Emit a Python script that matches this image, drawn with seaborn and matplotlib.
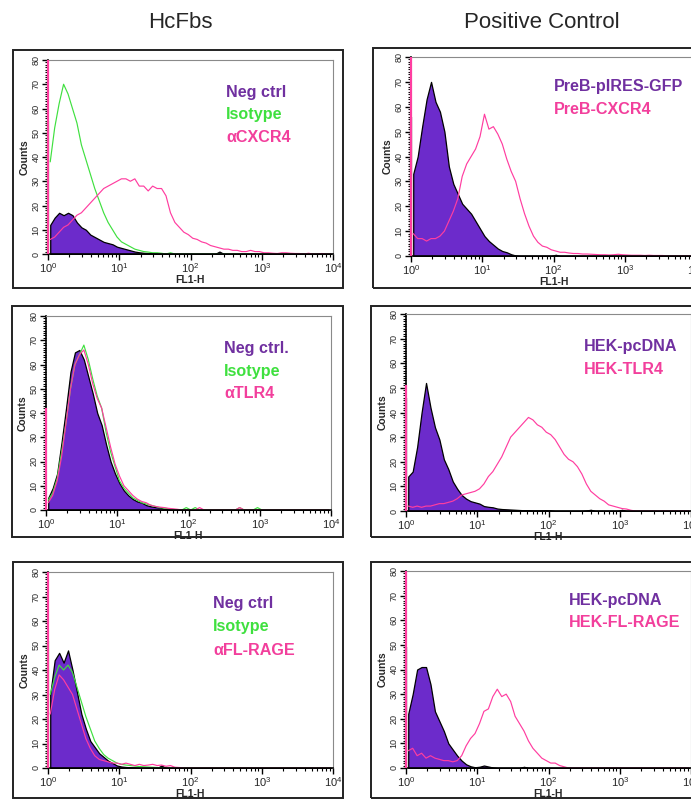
import numpy as np
import matplotlib
matplotlib.use("Agg")
import matplotlib.pyplot as plt
from matplotlib.patches import Rectangle
from matplotlib.ticker import MultipleLocator, FixedLocator
import seaborn as sns

# ----------------------------
# Data: counts per channel, 16 channels per decade of FL1-H (10^0 .. 10^4)
# first-channel pile-up values are kept separately
# ----------------------------
neg_a = [12, 15, 17, 16, 17, 16, 13, 11, 10, 8, 7, 6, 5, 4.5, 4, 3,
         2.5, 2, 1.5, 1, 0.7, 0.5, 0.4, 0.3, 0.2, 0.2, 0.1, 0.1, 0, 0, 0, 0,
         0, 0, 0, 0, 0, 0, 1, 0, 0, 0, 0, 0, 0, 0, 0, 0,
         0, 0, 0, 0, 0, 0, 0, 0, 0, 0, 0, 0, 0, 0, 0, 0]
iso_a = [38, 52, 62, 70, 66, 60, 54, 45, 39, 33, 27, 22, 17, 13, 10, 7,
         5, 4, 3, 2, 1.5, 1, 0.8, 0.5, 0.5, 0.3, 0, 0.5, 0, 0, 0, 0,
         0, 0, 0, 0, 0, 0, 0, 0, 0, 0, 0, 0, 0, 0, 0, 0,
         0, 0, 0, 0, 0, 0, 0, 0, 0, 0, 0, 0, 0, 0, 0, 0]
cxcr4_a = [6, 7, 9, 11, 12, 14, 16, 17, 19, 21, 23, 25, 27, 28, 29, 30,
           31, 31, 30, 31, 28, 28, 26, 28, 27, 27, 24, 17, 13, 11, 9, 8,
           6.5, 6, 5, 4.5, 3.5, 3, 2.5, 2, 2, 1.5, 1.5, 1, 1, 1.5, 1, 1,
           0.5, 0.5, 0.3, 0.2, 0.5, 0.5, 0.3, 0.2, 0.2, 0, 0.3, 0, 0, 0.2, 0, 0]

preb_gfp = [33, 40, 52, 63, 70, 62, 58, 50, 36, 29, 25, 21, 19, 17, 14, 11,
            8, 6, 4.5, 3, 2, 1.5, 0.7, 0.2, 0, 0, 0, 0, 0, 0, 0, 0,
            0.5, 0, 0, 0, 0, 0, 0, 0, 0, 0, 0, 0, 0, 0, 0, 0,
            0, 0, 0, 0, 0, 0, 0, 0, 0, 0, 0, 0, 0, 0, 0, 0]
preb_cxcr4 = [9, 7, 7, 6, 7, 7, 8, 10, 14, 18, 23, 32, 37, 40, 43, 48,
              57, 51, 52, 49, 45, 39, 34, 30, 23, 17, 12, 8, 5.5, 4, 3.5, 2.5,
              2, 1.5, 1.5, 1.2, 1, 1, 0.8, 0.8, 0.7, 0.6, 0.5, 0.5, 0.4, 0.5, 0.7, 0.5,
              0.4, 0.3, 0.3, 0.3, 0.2, 0.3, 0.2, 0.2, 0.2, 0, 0, 0, 0, 0, 0, 0]

neg_c = [5, 9, 15, 28, 42, 57, 65, 66, 62, 55, 48, 40, 35, 27, 20, 15,
         11, 8, 6, 4.5, 3.5, 3, 2, 1.5, 1.2, 1, 0.5, 0.3, 0, 0, 0, 0,
         0, 0, 0, 0, 0, 0, 0, 0, 0, 0, 0, 0, 0, 0, 0, 0,
         0, 0, 0, 0, 0, 0, 0, 0, 0, 0, 0, 0, 0, 0, 0, 0]
iso_c = [4, 7, 13, 24, 36, 50, 60, 64, 68, 62, 54, 47, 42, 32, 24, 18,
         12, 9, 7, 5, 4, 3, 2.5, 2, 1.5, 1, 0.8, 0.5, 0.3, 0, 0, 1,
         0, 1, 0, 0, 0, 0, 0, 0, 0, 0, 0, 1, 0, 0, 0, 1,
         0, 0, 0, 0, 0, 0, 0, 0, 0, 0, 0, 0, 0, 0, 0, 0]
tlr4_c = [3, 6, 12, 22, 36, 50, 60, 64, 66, 60, 52, 46, 42, 34, 26, 19,
          14, 10, 8, 6, 4.5, 3.5, 3, 2, 1.5, 1.2, 1, 0.7, 0.5, 0.3, 0, 0,
          0, 0, 1, 0, 0, 0, 0, 0, 0, 0, 0, 1, 0, 0, 0, 0,
          0, 0, 0, 0, 0, 0, 0, 0, 0, 0, 0, 0, 0, 0, 0, 0]

hek_pc_d = [14, 16, 26, 40, 52, 42, 34, 29, 21, 17, 12, 9, 6.5, 5, 4, 3.5,
            3, 2, 1.7, 1.5, 1, 0.8, 0.7, 0.6, 0.5, 0.4, 0.3, 0.3, 0.2, 0.2, 0.2, 0.3,
            0.2, 0, 0, 0, 0, 0, 0, 0, 0.2, 0.5, 0, 0, 0, 0, 0, 0,
            0.5, 0, 0, 0, 0, 0, 0, 0, 0, 0, 0, 0, 0, 0, 0, 0]
hek_tlr4 = [2, 1.5, 2, 1.5, 2, 2, 2.5, 3, 3, 3.5, 4, 5, 6.5, 7, 7.5, 8,
            9, 11, 14, 16, 19, 22, 26, 30, 32, 34, 36, 38, 37, 35, 34, 32,
            31, 29, 26, 23, 21, 20, 18, 15, 11, 8, 6.5, 5, 4, 2.5, 2, 1.5,
            1, 0.8, 0.3, 0, 0, 0, 0, 0, 0, 0, 0, 0, 0, 0, 0, 0]

neg_e = [30, 44, 47, 43, 48, 40, 31, 22, 16, 11, 8.5, 6, 4.5, 3, 2, 1,
         0.6, 0.4, 0.3, 0.2, 0, 0, 0, 0, 0, 1, 0, 0, 0, 0, 0, 0,
         0, 0, 0, 0, 0, 0, 0, 0, 0, 0, 0, 0, 0, 0, 0, 0,
         0, 0, 0, 0, 0, 0, 0, 0, 0, 0, 0, 0, 0, 0, 0, 0]
iso_e = [30, 37, 42, 40, 42, 39, 33, 27, 21, 16, 11, 8, 5.5, 4, 3, 2,
         1.5, 1.2, 1, 0.8, 0.6, 0.5, 0.4, 0.3, 0.2, 0, 0, 0, 0, 0, 0, 0,
         0, 0, 0, 0, 0, 0, 0, 0, 0, 0, 0, 0, 0, 0, 0, 0,
         0, 0, 0, 0, 0, 0, 0, 0, 0, 0, 0, 0, 0, 0, 0, 0]
rage_e = [22, 32, 38, 36, 33, 30, 24, 18, 12, 8, 5, 3.5, 3, 2.5, 2, 2,
          1.5, 2, 1.5, 1, 1.5, 1, 1.2, 1.5, 1, 1.2, 0.7, 1, 0.3, 0.2, 0, 0,
          0, 0, 0, 0, 0, 0, 0, 0, 0, 0, 0, 0, 0, 0, 0, 0,
          0, 0, 0, 0, 0, 0, 0, 0, 0, 0, 0, 0, 0, 0, 0, 0]

hek_pc_f = [22, 30, 40, 41, 41, 34, 23, 19, 15, 10, 7.5, 5, 3, 1.5, 0.7, 0.3,
            0.5, 1, 0.6, 0.2, 0, 0, 0, 0, 0, 0, 0.5, 0, 0, 0, 0, 0,
            0, 0, 0, 0, 0, 0, 0, 0, 0, 0, 0, 0, 0, 0, 0, 0,
            0, 0, 0, 0, 0, 0, 0, 0, 0, 0, 0, 0, 0, 0, 0, 0]
hek_rage = [7, 8, 5, 6, 4, 5, 4, 3.5, 3, 3, 2.5, 3, 5, 9, 12, 14,
            18, 23, 24, 29, 32, 29, 30, 27, 21, 18, 15, 11, 8, 6, 4, 3,
            2, 2, 1, 0.5, 0, 0, 0, 0, 0, 0, 0, 0, 0, 0, 0, 0,
            0, 0, 0, 0, 0, 0, 0, 0, 0, 0, 0, 0, 0, 0, 0, 0]

# pile-up in the first channel (drawn as a spike on the 10^0 edge)
first_a = {"iso": 55, "pink": 80}
first_b = {"fill": 56, "pink": 80}
first_c = {"pink": 42}
first_d = {"fill": 46, "pink": 51}
first_e = {"iso": 52, "pink": 80}
first_f = {"fill": 49, "pink": 80}

col_titles = ["HcFbs", "Positive Control"]

PURPLE_FILL = "#6C2BCB"
PURPLE_TXT = "#7030A0"
GREEN = "#3FE03F"
PINK = "#FF3DA0"
PINK_TXT = "#F23F9C"

W, H = 691, 799
N_BINS = 64
edges = np.linspace(0, 4, N_BINS + 1)
centers = (edges[:-1] + edges[1:]) / 2

sns.set_style("ticks")
plt.rcParams["font.family"] = ["Liberation Sans", "DejaVu Sans"]
plt.rcParams["mathtext.fontset"] = "custom"
plt.rcParams["mathtext.rm"] = "Liberation Sans"

fig = plt.figure(figsize=(W / 100, H / 100), dpi=100)


def px_axes(left, top, right, bottom):
    return fig.add_axes([left / W, 1 - bottom / H, (right - left) / W, (bottom - top) / H])


def style_axis(ax):
    ax.set_xlim(0, 4)
    ax.set_ylim(0, 80)
    ax.set_xticks(range(5))
    ax.set_xticklabels([r"$\mathregular{10^{%d}}$" % k for k in range(5)], fontsize=8)
    minors = [d + np.log10(m) for d in range(4) for m in range(2, 10)]
    ax.xaxis.set_minor_locator(FixedLocator(minors))
    ax.set_yticks(range(0, 81, 10))
    ax.set_yticklabels([str(v) for v in range(0, 81, 10)], rotation=90, va="center", fontsize=6.5)
    ax.yaxis.set_minor_locator(MultipleLocator(1))
    ax.tick_params(axis="both", which="major", direction="out", length=4, width=1, pad=1.5, color="black")
    ax.tick_params(axis="both", which="minor", direction="out", length=2, width=0.8, color="black")
    ax.set_xlabel("FL1-H", fontsize=7.5, fontweight="bold", va="top")
    ax.xaxis.set_label_coords(0.5, -0.108)
    ax.set_ylabel("Counts", fontsize=7.5, fontweight="bold", labelpad=1)
    for s in ["left", "bottom"]:
        ax.spines[s].set_linewidth(1.2)
        ax.spines[s].set_color("black")
    for s in ["top", "right"]:
        ax.spines[s].set_visible(True)
        ax.spines[s].set_linewidth(0.8)
        ax.spines[s].set_color("#8a8a8a")


def draw_fill(ax, counts):
    sns.histplot(x=centers, weights=np.asarray(counts, float), bins=N_BINS, binrange=(0, 4),
                 element="poly", fill=True, color=PURPLE_FILL, edgecolor="black",
                 linewidth=0.9, alpha=1, ax=ax)


def draw_line(ax, counts, color):
    sns.histplot(x=centers, weights=np.asarray(counts, float), bins=N_BINS, binrange=(0, 4),
                 element="poly", fill=False, color=color, linewidth=0.85, ax=ax)


def spike(ax, value, color):
    ax.vlines(edges[0], 0, value, color=color, linewidth=1.6, zorder=6, clip_on=False)


def labels(ax, x, ys, texts, colors):
    for y, t, c in zip(ys, texts, colors):
        ax.text(x, y, t, transform=ax.transAxes, color=c, fontsize=11.6,
                fontweight="bold", va="center", ha="left")


# ----------------------------
# Outer panel frames
# ----------------------------
frames = [(13, 50, 343, 288), (373, 48, 702, 288),
          (12, 306, 343, 537), (371, 306, 702, 537),
          (13, 562, 343, 798), (371, 562, 702, 798)]
for x0, y0, x1, y1 in frames:
    fig.add_artist(Rectangle((x0 / W, 1 - y1 / H), (x1 - x0) / W, (y1 - y0) / H,
                             transform=fig.transFigure, fill=False, lw=1.4, ec="#222222"))

fig.text(180 / W, 1 - 22 / H, col_titles[0], fontsize=16, ha="center", va="center")
fig.text(542 / W, 1 - 22 / H, col_titles[1], fontsize=16, ha="center", va="center")

# Panel A: HcFbs CXCR4
ax = px_axes(48, 60, 333, 254)
draw_fill(ax, neg_a)
draw_line(ax, iso_a, GREEN)
draw_line(ax, cxcr4_a, PINK)
spike(ax, first_a["iso"], GREEN)
spike(ax, first_a["pink"], PINK)
style_axis(ax)
labels(ax, 0.625, [0.835, 0.717, 0.598], ["Neg ctrl", "Isotype", "\u03b1CXCR4"],
       [PURPLE_TXT, GREEN, PINK_TXT])

# Panel B: PreB
ax = px_axes(411, 57, 696, 256)
draw_fill(ax, preb_gfp)
draw_line(ax, preb_cxcr4, PINK)
spike(ax, first_b["fill"], "black")
spike(ax, first_b["pink"], PINK)
style_axis(ax)
labels(ax, 0.50, [0.85, 0.734], ["PreB-pIRES-GFP", "PreB-CXCR4"], [PURPLE_TXT, PINK_TXT])

# Panel C: HcFbs TLR4
ax = px_axes(46, 316, 331, 510)
draw_fill(ax, neg_c)
draw_line(ax, iso_c, GREEN)
draw_line(ax, tlr4_c, PINK)
spike(ax, first_c["pink"], PINK)
style_axis(ax)
labels(ax, 0.625, [0.835, 0.716, 0.598], ["Neg ctrl.", "Isotype", "\u03b1TLR4"],
       [PURPLE_TXT, GREEN, PINK_TXT])

# Panel D: HEK TLR4
ax = px_axes(406, 314, 691, 511)
draw_fill(ax, hek_pc_d)
draw_line(ax, hek_tlr4, PINK)
spike(ax, first_d["fill"], "black")
spike(ax, first_d["pink"], PINK)
style_axis(ax)
labels(ax, 0.625, [0.833, 0.716], ["HEK-pcDNA", "HEK-TLR4"], [PURPLE_TXT, PINK_TXT])

# Panel E: HcFbs FL-RAGE
ax = px_axes(48, 572, 333, 768)
draw_fill(ax, neg_e)
draw_line(ax, iso_e, GREEN)
draw_line(ax, rage_e, PINK)
spike(ax, first_e["iso"], GREEN)
spike(ax, first_e["pink"], PINK)
style_axis(ax)
labels(ax, 0.58, [0.837, 0.72, 0.602], ["Neg ctrl", "Isotype", "\u03b1FL-RAGE"],
       [PURPLE_TXT, GREEN, PINK_TXT])

# Panel F: HEK FL-RAGE
ax = px_axes(406, 571, 691, 768)
draw_fill(ax, hek_pc_f)
draw_line(ax, hek_rage, PINK)
spike(ax, first_f["fill"], "black")
spike(ax, first_f["pink"], PINK)
style_axis(ax)
labels(ax, 0.572, [0.848, 0.741], ["HEK-pcDNA", "HEK-FL-RAGE"], [PURPLE_TXT, PINK_TXT])

fig.savefig("out.png", dpi=100)
